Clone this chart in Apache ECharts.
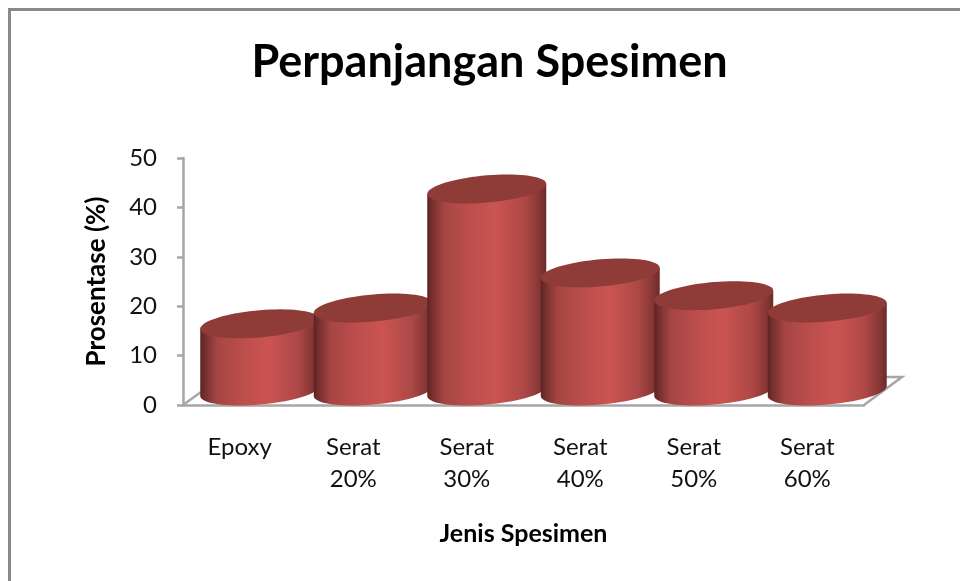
<!DOCTYPE html>
<html>
<head>
<meta charset="utf-8">
<title>Perpanjangan Spesimen</title>
<style>
  html, body { margin: 0; padding: 0; background: #fff; }
  #chart { width: 960px; height: 581px; }
</style>
<script src="https://cdn.jsdelivr.net/npm/echarts@6/dist/echarts.min.js"></script>
</head>
<body>
<div id="chart"></div>
<script>
var categories = ["Epoxy", "Serat\n20%", "Serat\n30%", "Serat\n40%", "Serat\n50%", "Serat\n60%"];
var values = [13.6, 16.8, 40.9, 23.9, 19.3, 16.8];
var yTicks = { min: 0, max: 50, interval: 10 };

var FONT = "Lato, 'Open Sans', sans-serif";
var GRAY = "#a6a6a6";
// kemiringan semu 3D: silinder digeser dari sumbu depan
var DEPTH_X = 20, DEPTH_Y = 14, RX = 59.5, SKEW = 5, RY = 13.6;

// titik elips miring; t=0 ujung kanan, t=PI ujung kiri
function ellipsePt(cx, cy, t) {
  return [cx + RX * Math.cos(t), cy - SKEW * Math.cos(t) + RY * Math.sin(t)];
}
function ellipse(cx, cy) {
  var pts = [];
  for (var i = 0; i < 72; i++) pts.push(ellipsePt(cx, cy, i / 72 * Math.PI * 2));
  return pts;
}
// setengah bawah elips, dari kiri ke kanan
function lowerArc(cx, cy) {
  var pts = [];
  for (var i = 0; i <= 36; i++) pts.push(ellipsePt(cx, cy, Math.PI - i / 36 * Math.PI));
  return pts;
}

function renderCylinder(params, api) {
  var i = api.value(0);
  var top = api.coord([i, api.value(1)]);
  var base = api.coord([i, 0]);
  var cx = top[0] + DEPTH_X;
  var topY = top[1] - DEPTH_Y, baseY = base[1] - DEPTH_Y;
  var body = lowerArc(cx, baseY).concat([ellipsePt(cx, topY, 0), ellipsePt(cx, topY, Math.PI)]);
  return {
    type: "group",
    children: [
      {
        type: "polygon",
        shape: { points: body },
        style: {
          fill: {
            type: "linear", x: 0, y: 0, x2: 1, y2: 0,
            colorStops: [
              { offset: 0, color: "#5c2422" },
              { offset: 0.04, color: "#752f2d" },
              { offset: 0.14, color: "#a54543" },
              { offset: 0.35, color: "#bb4e4b" },
              { offset: 0.58, color: "#cb5452" },
              { offset: 0.82, color: "#ad4846" },
              { offset: 0.95, color: "#833533" },
              { offset: 1, color: "#6a2b29" }
            ]
          }
        }
      },
      { type: "polygon", shape: { points: ellipse(cx, topY) }, style: { fill: "#8f3b38" } }
    ]
  };
}

// lantai grafik, mengikuti tepi grid
function renderFloor(params) {
  var g = params.coordSys;
  var bottom = g.y + g.height, right = g.x + g.width;
  var line = { stroke: GRAY, lineWidth: 2.5, fill: null };
  return {
    type: "group",
    children: [
      { type: "polyline", shape: { points: [[right, bottom], [right + 38, bottom - 28], [g.x + 38, bottom - 28]] }, style: line },
      { type: "line", shape: { x1: g.x, y1: bottom, x2: g.x + 18, y2: bottom - 13 }, style: line }
    ]
  };
}

var chart = echarts.init(document.getElementById("chart"), null, { renderer: "canvas" });
chart.setOption({
  backgroundColor: "#ffffff",
  animation: false,
  title: {
    text: "Perpanjangan Spesimen", left: 489, top: 35, textAlign: "center",
    textStyle: { fontFamily: FONT, fontSize: 45, fontWeight: "bold", color: "#000" }
  },
  graphic: [
    { type: "line", shape: { x1: 9.5, y1: 8, x2: 9.5, y2: 581 }, style: { stroke: "#8a8a8a", lineWidth: 3 } },
    { type: "line", shape: { x1: 8, y1: 9.5, x2: 960, y2: 9.5 }, style: { stroke: "#8a8a8a", lineWidth: 3 } }
  ],
  grid: { left: 183, right: 96, top: 158, bottom: 176 },
  xAxis: {
    type: "category", data: categories,
    name: "Jenis Spesimen", nameLocation: "middle", nameGap: 116,
    nameTextStyle: { fontFamily: FONT, fontSize: 25, fontWeight: "bold", color: "#000" },
    axisTick: { show: false },
    axisLine: { lineStyle: { color: GRAY, width: 2.5 } },
    axisLabel: { margin: 26, fontFamily: FONT, fontSize: 24, lineHeight: 32, color: "#111" }
  },
  yAxis: {
    type: "value", min: yTicks.min, max: yTicks.max, interval: yTicks.interval,
    name: "Prosentase (%)", nameLocation: "middle", nameGap: 73,
    nameTextStyle: { fontFamily: FONT, fontSize: 26, fontWeight: "bold", color: "#000" },
    splitLine: { show: false },
    axisLine: { show: true, lineStyle: { color: GRAY, width: 2.5 } },
    axisTick: { show: true, length: 6, lineStyle: { color: GRAY, width: 2.5 } },
    axisLabel: { margin: 26, fontFamily: FONT, fontSize: 24, color: "#111" }
  },
  series: [
    { type: "custom", silent: true, data: [[0, 0]], renderItem: renderFloor, clip: false, z: 1 },
    {
      type: "custom", clip: false, z: 2, renderItem: renderCylinder,
      encode: { x: 0, y: 1 },
      data: values.map(function (v, i) { return [i, v]; })
    }
  ]
});
// judul sedikit ke kiri dari tengah grid
chart.setOption({ title: { left: 484.5 } });
</script>
</body>
</html>
